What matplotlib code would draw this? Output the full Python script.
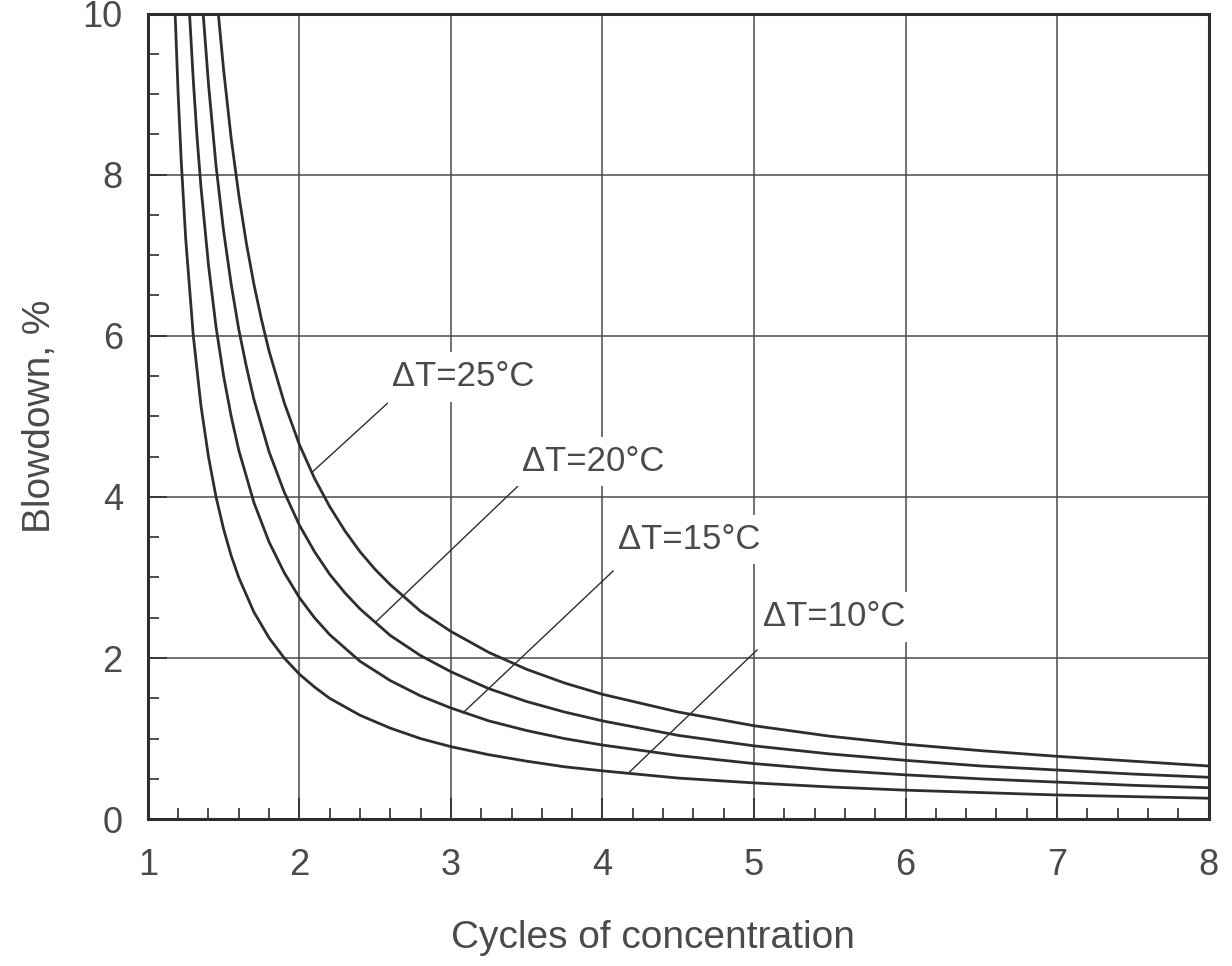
import numpy as np
import matplotlib
matplotlib.use("Agg")
from matplotlib import pyplot as plt
from matplotlib.ticker import MultipleLocator

plt.rcParams["font.family"] = ["Liberation Sans", "DejaVu Sans"]

# values: blowdown (%) vs cycles of concentration
x_10 = [1.18, 1.2, 1.22, 1.25, 1.3, 1.35, 1.4, 1.45, 1.5, 1.55, 1.6, 1.7, 1.8, 1.9, 2.0, 2.1,
        2.2, 2.4, 2.6, 2.8, 3.0, 3.25, 3.5, 3.75, 4.0, 4.5, 5.0, 5.5, 6.0, 6.5, 7.0, 7.5, 8.0]
y_10 = [10.0, 9.0, 8.18, 7.2, 6.0, 5.14, 4.5, 4.0, 3.6, 3.27, 3.0, 2.57, 2.25, 2.0, 1.8, 1.64,
        1.5, 1.29, 1.13, 1.0, 0.9, 0.8, 0.72, 0.65, 0.6, 0.51, 0.45, 0.4, 0.36, 0.33, 0.3, 0.28, 0.26]

x_15 = [1.275, 1.3, 1.325, 1.35, 1.4, 1.45, 1.5, 1.55, 1.6, 1.7, 1.8, 1.9, 2.0, 2.1, 2.2, 2.4,
        2.6, 2.8, 3.0, 3.25, 3.5, 3.75, 4.0, 4.5, 5.0, 5.5, 6.0, 6.5, 7.0, 7.5, 8.0]
y_15 = [10.0, 9.17, 8.46, 7.86, 6.88, 6.11, 5.5, 5.0, 4.58, 3.93, 3.44, 3.06, 2.75, 2.5, 2.29, 1.96,
        1.72, 1.53, 1.38, 1.22, 1.1, 1.0, 0.92, 0.79, 0.69, 0.61, 0.55, 0.5, 0.46, 0.42, 0.39]

x_20 = [1.365, 1.4, 1.45, 1.5, 1.55, 1.6, 1.65, 1.7, 1.8, 1.9, 2.0, 2.1, 2.2, 2.3, 2.4, 2.6,
        2.8, 3.0, 3.25, 3.5, 3.75, 4.0, 4.5, 5.0, 5.5, 6.0, 6.5, 7.0, 7.5, 8.0]
y_20 = [10.0, 9.13, 8.11, 7.3, 6.64, 6.08, 5.62, 5.21, 4.56, 4.06, 3.65, 3.32, 3.04, 2.81, 2.61, 2.28,
        2.03, 1.83, 1.62, 1.46, 1.33, 1.22, 1.04, 0.91, 0.81, 0.73, 0.66, 0.61, 0.56, 0.52]

x_25 = [1.465, 1.5, 1.55, 1.6, 1.65, 1.7, 1.75, 1.8, 1.9, 2.0, 2.1, 2.2, 2.3, 2.4, 2.5, 2.6,
        2.8, 3.0, 3.25, 3.5, 3.75, 4.0, 4.5, 5.0, 5.5, 6.0, 6.5, 7.0, 7.5, 8.0]
y_25 = [10.0, 9.3, 8.45, 7.75, 7.15, 6.64, 6.2, 5.81, 5.17, 4.65, 4.23, 3.88, 3.58, 3.32, 3.1, 2.91,
        2.58, 2.33, 2.07, 1.86, 1.69, 1.55, 1.33, 1.16, 1.03, 0.93, 0.85, 0.78, 0.72, 0.66]

labels = ["\u0394T=10\u00b0C", "\u0394T=15\u00b0C", "\u0394T=20\u00b0C", "\u0394T=25\u00b0C"]
label_pos = [(5.06, 2.51), (4.10, 3.47), (3.47, 4.44), (2.61, 5.49)]
leader_start = [(4.17, 0.57), (3.08, 1.32), (2.50, 2.44), (2.08, 4.30)]
leader_end = [(5.02, 2.10), (4.07, 3.08), (3.44, 4.13), (2.58, 5.16)]

x_ticks = [1, 2, 3, 4, 5, 6, 7, 8]
y_ticks = [0, 2, 4, 6, 8, 10]

LINE = "#2e2e2e"
GRID = "#4a4a4a"
TEXT = "#4a4a4a"

fig = plt.figure(figsize=(12.32, 9.66), dpi=100)
ax = fig.add_axes([0.120, 0.152, 0.861, 0.834])

ax.set_xlim(1, 8)
ax.set_ylim(0, 10)
ax.set_xticks(x_ticks)
ax.set_yticks(y_ticks)
ax.xaxis.set_minor_locator(MultipleLocator(0.2))
ax.yaxis.set_minor_locator(MultipleLocator(0.5))
ax.grid(True, which="major", color=GRID, lw=1.1, zorder=1)
ax.tick_params(which="both", direction="in", colors=LINE, labelcolor=TEXT, labelsize=26)
ax.tick_params(axis="x", which="major", length=15, width=1.2, pad=21)
ax.tick_params(axis="x", which="minor", length=8, width=1.2)
ax.tick_params(axis="y", which="major", length=14, width=1.2, pad=18)
ax.tick_params(axis="y", which="minor", length=8, width=1.2)
for s in ax.spines.values():
    s.set_color(LINE)
    s.set_linewidth(2.2)

for xs, ys in [(x_10, y_10), (x_15, y_15), (x_20, y_20), (x_25, y_25)]:
    ax.plot(xs, ys, color=LINE, lw=2.0, zorder=3, solid_joinstyle="round")

for lab, (tx, ty), (sx, sy), (ex, ey) in zip(labels, label_pos, leader_start, leader_end):
    ax.plot([sx, ex], [sy, ey], color=LINE, lw=1.0, zorder=3)
    ax.text(tx, ty, lab, fontsize=25, color=TEXT, ha="left", va="center", zorder=4,
            bbox=dict(facecolor="white", edgecolor="none", pad=6))

ax.set_xlabel("Cycles of concentration", fontsize=28, color=TEXT, va="top")
ax.set_ylabel("Blowdown, %", fontsize=28, color=TEXT)
ax.xaxis.set_label_coords(0.476, -0.125)
ax.yaxis.set_label_coords(-0.085, 0.5)

fig.savefig("out.png", dpi=100, facecolor="white")
